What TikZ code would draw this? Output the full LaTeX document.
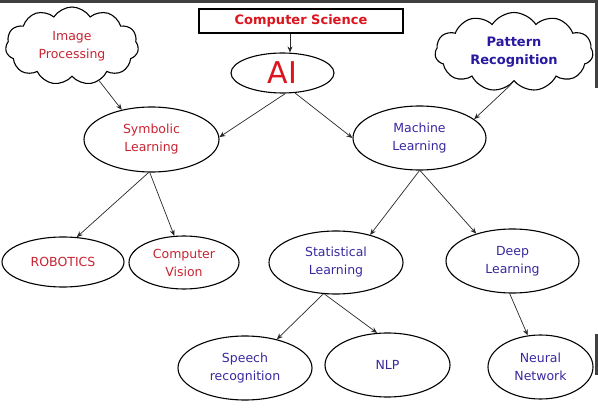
\documentclass[tikz,border=0pt]{standalone}
\usepackage{fontspec}
\setmainfont{DejaVu Sans}
\usetikzlibrary{shapes.geometric,shapes.symbols,arrows.meta}
\definecolor{redA}{RGB}{220,20,30}
\definecolor{redB}{RGB}{200,35,50}
\definecolor{blueA}{RGB}{40,25,160}
\definecolor{blueB}{RGB}{55,40,160}
\definecolor{edgeC}{RGB}{40,40,40}
\tikzset{
  ell/.style={ellipse,draw=black,line width=1.1pt,inner sep=0pt,align=center,font=\fontsize{12.5}{18}\selectfont},
  cld/.style={cloud,cloud puffs=11,cloud puff arc=115,cloud ignores aspect,draw=black,line width=1.1pt,inner sep=0pt,align=center,font=\fontsize{12.5}{18}\selectfont},
  arr/.style={-{Stealth[length=6pt,width=5pt]},line width=0.7pt,draw=edgeC},
}
\begin{document}
\begin{tikzpicture}[x=1pt,y=1pt]
\useasboundingbox (0,0) rectangle (598,-417);
% scan artefacts
\fill[black!75] (0,0) rectangle (598,-3);
\fill[black!75] (595,0) rectangle (598,-88);
\fill[black!75] (595,-334) rectangle (598,-375);
% nodes
\node[draw=black,line width=1.1pt,minimum width=204,minimum height=24,inner sep=0pt,text=redA,font=\bfseries\fontsize{13}{16}\selectfont] (cs) at (301,-21) {Computer Science};
\node[ell,minimum width=103,minimum height=40,text=redA,font=\fontsize{30}{30}\selectfont] (ai) at (282.5,-73) {AI};
\node[cld,minimum width=133,minimum height=78,text=redB] (ip) at (72,-46) {Image\\Processing};
\node[cld,minimum width=158,minimum height=79,text=blueA,font=\bfseries\fontsize{13}{18}\selectfont] (pr) at (514,-52) {Pattern\\Recognition};
\node[ell,minimum width=135,minimum height=65,text=redB] (sym) at (151.5,-139.5) {Symbolic\\Learning};
\node[ell,minimum width=133,minimum height=64,text=blueB] (ml) at (419.5,-138) {Machine\\Learning};
\node[ell,minimum width=122,minimum height=50,text=redB] (rob) at (63,-262) {ROBOTICS};
\node[ell,minimum width=110,minimum height=53,text=redB] (cv) at (184,-262.5) {Computer\\Vision};
\node[ell,minimum width=134,minimum height=63,text=blueB] (sl) at (336,-262.5) {Statistical\\Learning};
\node[ell,minimum width=133,minimum height=64,text=blueB] (dl) at (512.5,-261) {Deep\\Learning};
\node[ell,minimum width=134,minimum height=64,text=blueB] (sr) at (245,-368) {Speech\\recognition};
\node[ell,minimum width=125,minimum height=64,text=blueB] (nlp) at (387.5,-365) {NLP};
\node[ell,minimum width=105,minimum height=64,text=blueB] (nn) at (540.5,-367) {Neural\\Network};
% connectors
\draw[arr] (cs.south -| ai.center) ++(7.5,0) coordinate (csb) -- (csb |- ai.north);
\draw[arr] (ai.-82) -- (sym.2);
\draw[arr] (ai.-58) -- (ml.180);
\draw[arr] (ip.-52) -- (sym.135);
\draw[arr] (pr.-95) -- (ml.19);
\draw[arr] (sym.-95) -- (rob.61);
\draw[arr] (sym.-93) -- (cv.110);
\draw[arr] (ml.-90) -- (sl.39);
\draw[arr] (ml.-89) -- (dl.143);
\draw[arr] (sl.-112) -- (sr.42);
\draw[arr] (sl.-110) -- (nlp.108);
\draw[arr] (dl.-95) -- (nn.112);
\end{tikzpicture}
\end{document}
